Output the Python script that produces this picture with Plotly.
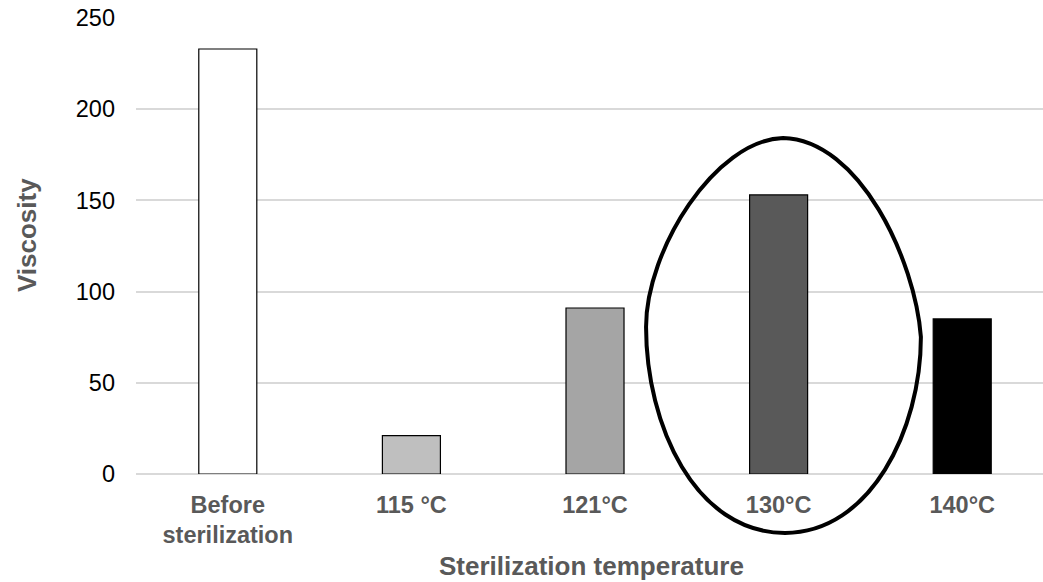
import plotly.graph_objects as go

# Viscosity after sterilization at different temperatures
categories = ["Before<br>sterilization", "115 °C", "121°C", "130°C", "140°C"]
viscosity = [233, 21, 91, 153, 85]
bar_colors = ["#ffffff", "#bfbfbf", "#a5a5a5", "#595959", "#000000"]
y_ticks = [0, 50, 100, 150, 200, 250]

X_RANGE = [-0.5, 4.44]
Y_RANGE = [0, 250]

# Hand-drawn loop around the 130°C bar, in (category index, value) units:
# start point followed by cubic Bezier segments (ctrl1, ctrl2, end)
loop_start = (3.024, 184.2)
loop_segments = [
    ((3.443, 183.1), (3.743, 117.3), (3.775, 75.1)),
    ((3.775, 24.1), (3.498, -32.3), (3.035, -32.3)),
    ((2.545, -32.3), (2.278, 26.9), (2.278, 80.6)),
    ((2.278, 122.8), (2.654, 183.1), (3.024, 184.2)),
]


def to_paper(pt):
    i, v = pt
    xp = (i - X_RANGE[0]) / (X_RANGE[1] - X_RANGE[0])
    yp = (v - Y_RANGE[0]) / (Y_RANGE[1] - Y_RANGE[0])
    return f"{xp:.5f},{yp:.5f}"


loop_path = "M " + to_paper(loop_start)
for c1, c2, end in loop_segments:
    loop_path += f" C {to_paper(c1)} {to_paper(c2)} {to_paper(end)}"
loop_path += " Z"

FONT = "Liberation Sans, Arial, sans-serif"

fig = go.Figure(
    go.Bar(
        x=categories,
        y=viscosity,
        marker=dict(color=bar_colors, line=dict(color="#000000", width=1.2)),
        hoverinfo="x+y",
    )
)

fig.update_layout(
    width=1043,
    height=582,
    margin=dict(l=136, r=0, t=18, b=108, pad=0),
    plot_bgcolor="#ffffff",
    paper_bgcolor="#ffffff",
    bargap=0.684,
    showlegend=False,
    font=dict(family=FONT, color="#000000"),
    shapes=[
        dict(
            type="path",
            xref="paper",
            yref="paper",
            path=loop_path,
            line=dict(color="#000000", width=4),
            fillcolor="rgba(0,0,0,0)",
            layer="above",
        )
    ],
    annotations=[
        dict(
            text="<b>Viscosity</b>",
            xref="paper", yref="paper",
            x=-0.1202, y=0.524,
            textangle=-90,
            showarrow=False,
            xanchor="center", yanchor="middle",
            font=dict(size=26, color="#595959", family=FONT),
        ),
        dict(
            text="<b>Sterilization temperature</b>",
            xref="paper", yref="paper",
            x=0.5017, y=-0.2018,
            showarrow=False,
            xanchor="center", yanchor="middle",
            font=dict(size=26, color="#595959", family=FONT),
        ),
    ],
)

fig.update_xaxes(
    type="category",
    range=X_RANGE,
    showgrid=False,
    showline=False,
    ticks="",
    tickfont=dict(size=23.5, color="#595959", family=FONT, weight="bold"),
    ticklabelstandoff=14,
)

fig.update_yaxes(
    range=Y_RANGE,
    tickvals=y_ticks,
    showgrid=True,
    gridcolor="#d9d9d9",
    gridwidth=1.5,
    zeroline=True,
    zerolinecolor="#d9d9d9",
    zerolinewidth=1.5,
    showline=False,
    ticks="",
    tickfont=dict(size=23.5, color="#000000", family=FONT),
    ticklabelstandoff=20,
)

fig.write_html("out.html")
